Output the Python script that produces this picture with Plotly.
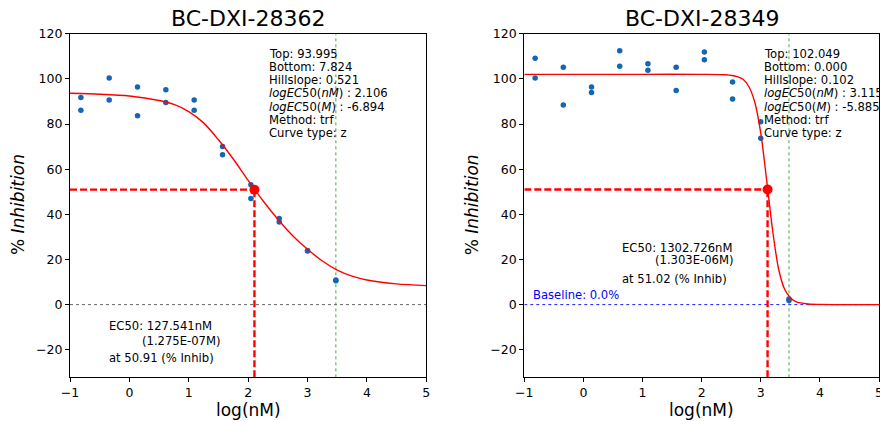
import plotly.graph_objects as go

# log10 concentration (nM) of the 3-fold dilution series
log_conc = [-0.817, -0.340, 0.137, 0.614, 1.091, 1.569, 2.046, 2.523, 3.000, 3.477]

# compound 1 : BC-DXI-28362
c1_name = "BC-DXI-28362"
c1_rep1 = [91.7, 100.4, 96.4, 95.2, 90.6, 70.0, 53.1, 38.1, 24.0, 10.9]
c1_rep2 = [86.1, 90.6, 83.7, 89.5, 86.1, 66.4, 47.0, 36.6, 23.8, 10.6]
c1_fit_x = [-1, -0.5, 0, 0.5, 0.75, 1.0, 1.25, 1.5, 1.75, 2.0, 2.25, 2.5, 2.75, 3.0, 3.25, 3.5, 3.75, 4.0, 4.5, 5.0]
c1_fit_y = [93.6, 93.2, 92.4, 90.4, 88.7, 85.5, 80.5, 73.0, 64.5, 55.0, 46.0, 37.8, 30.5, 24.5, 19.3, 15.3, 12.6, 10.9, 9.2, 8.4]
c1_logec50 = 2.106
c1_ec50_inhib = 50.91
c1_params = ["Top: 93.995", "Bottom: 7.824", "Hillslope: 0.521",
             "<i>logEC</i>50(<i>nM</i>) : 2.106", "<i>logEC</i>50(<i>M</i>) : -6.894",
             "Method: trf", "Curve type: z"]
c1_ec50_text = ["EC50: 127.541nM", "(1.275E-07M)", "at 50.91 (% Inhib)"]

# compound 2 : BC-DXI-28349
c2_name = "BC-DXI-28349"
c2_rep1 = [109.1, 105.1, 96.4, 112.5, 106.7, 105.1, 111.9, 98.6, 81.0, 2.5]
c2_rep2 = [100.4, 88.4, 94.0, 105.6, 103.8, 94.8, 108.5, 91.1, 73.7, 1.8]
c2_fit_x = [-1, 0, 1, 2, 2.4, 2.6, 2.7, 2.8, 2.9, 3.0, 3.1, 3.2, 3.3, 3.4, 3.5, 3.6, 3.8, 4.0, 5.0]
c2_fit_y = [102.0, 102.0, 102.0, 102.0, 101.8, 101.0, 99.8, 96.5, 89.5, 76.0, 55.0, 33.0, 16.0, 7.0, 3.0, 1.2, 0.3, 0.1, 0.0]
c2_logec50 = 3.115
c2_ec50_inhib = 51.02
c2_params = ["Top: 102.049", "Bottom: 0.000", "Hillslope: 0.102",
             "<i>logEC</i>50(<i>nM</i>) : 3.115", "<i>logEC</i>50(<i>M</i>) : -5.885",
             "Method: trf", "Curve type: z"]
c2_ec50_text = ["EC50: 1302.726nM", "(1.303E-06M)", "at 51.02 (% Inhib)"]

x_range = [-1, 5]
y_range = [-32.2, 120]
max_conc = 3.477

W, H = 880, 421
FONT = "DejaVu Sans"
BLUE = "#1565b5"

fig = go.Figure()

def px_x(p):
    return p / W

def px_y(p):
    return (H - p) / H

panels = [
    dict(name=c1_name, r1=c1_rep1, r2=c1_rep2, fx=c1_fit_x, fy=c1_fit_y, lec=c1_logec50,
         inh=c1_ec50_inhib, params=c1_params, ectxt=c1_ec50_text, x0=70, x1=426.3,
         base_col="#555555", base_txt=None),
    dict(name=c2_name, r1=c2_rep1, r2=c2_rep2, fx=c2_fit_x, fy=c2_fit_y, lec=c2_logec50,
         inh=c2_ec50_inhib, params=c2_params, ectxt=c2_ec50_text, x0=524.3, x1=879,
         base_col="#0000ff", base_txt="Baseline: 0.0%"),
]

annotations = []
for i, p in enumerate(panels):
    n = "" if i == 0 else str(i + 1)
    xa, ya = "x" + n, "y" + n
    # reference lines
    fig.add_trace(go.Scatter(x=x_range, y=[0, 0], mode="lines", xaxis=xa, yaxis=ya,
                             line=dict(color=p["base_col"], width=0.9, dash="dot"), showlegend=False))
    fig.add_trace(go.Scatter(x=[max_conc, max_conc], y=y_range, mode="lines", xaxis=xa, yaxis=ya,
                             line=dict(color="#2ca02c", width=0.9, dash="dot"), showlegend=False))
    # data
    fig.add_trace(go.Scatter(x=log_conc + log_conc, y=p["r1"] + p["r2"], mode="markers",
                             xaxis=xa, yaxis=ya, marker=dict(color=BLUE, size=5.5), showlegend=False))
    # fit
    fig.add_trace(go.Scatter(x=p["fx"], y=p["fy"], mode="lines", xaxis=xa, yaxis=ya,
                             line=dict(color="red", width=1.4, shape="spline", smoothing=0.8),
                             showlegend=False))
    # EC50 guide lines
    fig.add_trace(go.Scatter(x=[x_range[0], p["lec"]], y=[p["inh"], p["inh"]], mode="lines",
                             xaxis=xa, yaxis=ya, line=dict(color="red", width=2.4, dash="7px,3px"),
                             showlegend=False))
    fig.add_trace(go.Scatter(x=[p["lec"], p["lec"]], y=[y_range[0], p["inh"]], mode="lines",
                             xaxis=xa, yaxis=ya, line=dict(color="red", width=2.4, dash="7px,3px"),
                             showlegend=False))
    fig.add_trace(go.Scatter(x=[p["lec"]], y=[p["inh"]], mode="markers", xaxis=xa, yaxis=ya,
                             marker=dict(color="red", size=10), showlegend=False))

    dom = [px_x(p["x0"]), px_x(p["x1"])]
    ax = dict(domain=dom, range=x_range, tickvals=[-1, 0, 1, 2, 3, 4, 5],
              ticktext=["\u22121", "0", "1", "2", "3", "4", "5"], automargin=False,
              ticklabeloverflow="allow",
              showgrid=False, zeroline=False, showline=True, linecolor="black", linewidth=1.2,
              mirror=True, ticks="outside", ticklen=4, tickcolor="black",
              tickfont=dict(family=FONT, size=12.5, color="black"), anchor=ya)
    ay = dict(domain=[px_y(377.3), px_y(33.7)], range=y_range,
              tickvals=[-20, 0, 20, 40, 60, 80, 100, 120],
              ticktext=["\u221220", "0", "20", "40", "60", "80", "100", "120"], automargin=False,
              ticklabeloverflow="allow",
              showgrid=False, zeroline=False, showline=True, linecolor="black", linewidth=1.2,
              mirror=True, ticks="outside", ticklen=4, tickcolor="black",
              tickfont=dict(family=FONT, size=12.5, color="black"), anchor=xa)
    fig.update_layout({"xaxis" + n: ax, "yaxis" + n: ay})

    cx = (p["x0"] + p["x1"]) / 2
    # title and axis titles
    annotations.append(dict(text=p["name"], x=px_x(cx), y=px_y(18), xref="paper", yref="paper",
                            showarrow=False, xanchor="center", yanchor="middle",
                            font=dict(family=FONT, size=22, color="black")))
    annotations.append(dict(text="log(nM)", x=px_x(cx), y=px_y(410), xref="paper", yref="paper",
                            showarrow=False, xanchor="center", yanchor="middle",
                            font=dict(family=FONT, size=17, color="black")))
    annotations.append(dict(text="% <i>Inhibition</i>", x=px_x(p["x0"] - 52), y=px_y(205),
                            xref="paper", yref="paper", showarrow=False, textangle=-90,
                            xanchor="center", yanchor="middle",
                            font=dict(family=FONT, size=17, color="black")))
    # fit parameters
    px_per_unit = (p["x1"] - p["x0"]) / 6
    py_per_unit = (377.3 - 33.7) / (y_range[1] - y_range[0])
    tx = 267 if i == 0 else 762
    for k, line in enumerate(p["params"]):
        annotations.append(dict(text=line, x=x_range[0] + (tx - p["x0"]) / px_per_unit,
                                y=(304.3 - (53.3 + 13.25 * k)) / py_per_unit,
                                xref=xa, yref=ya, showarrow=False, xanchor="left", yanchor="middle",
                                font=dict(family=FONT, size=11.6, color="black")))
    # EC50 text
    if i == 0:
        pos = [(106.7, 326), (140, 341), (106.7, 358)]
    else:
        pos = [(620, 247.3), (653.3, 260), (620, 279)]
    for line, (ex, ey) in zip(p["ectxt"], pos):
        annotations.append(dict(text=line, x=x_range[0] + (ex - p["x0"]) / px_per_unit,
                                y=(304.3 - ey) / py_per_unit, xref=xa, yref=ya,
                                showarrow=False, xanchor="left", yanchor="middle",
                                font=dict(family=FONT, size=11.6, color="black")))
    if p["base_txt"]:
        annotations.append(dict(text=p["base_txt"], x=x_range[0] + (530.7 - p["x0"]) / px_per_unit,
                                y=(304.3 - 294.3) / py_per_unit, xref=xa, yref=ya,
                                showarrow=False, xanchor="left", yanchor="middle",
                                font=dict(family=FONT, size=11.6, color="#0000ff")))

fig.update_layout(width=W, height=H, margin=dict(l=0, r=0, t=0, b=0),
                  paper_bgcolor="white", plot_bgcolor="white",
                  annotations=annotations, showlegend=False)

fig.write_html("out.html", config={"displayModeBar": False},
               post_script="document.body.style.margin='0px';")
